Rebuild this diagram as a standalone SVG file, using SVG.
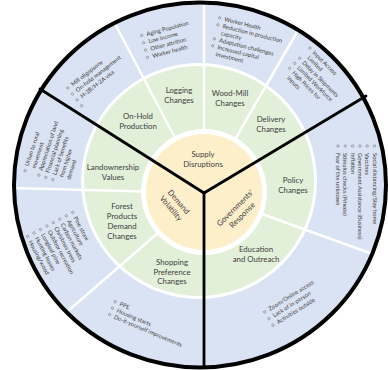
<svg xmlns="http://www.w3.org/2000/svg" width="388" height="370" viewBox="0 0 388 370">
<style>
.lbl{font-family:Lato,"Liberation Sans",sans-serif;font-size:7.8px;fill:#404040;text-anchor:middle}
.bt{font-family:Lato,"Liberation Sans",sans-serif;font-size:5.8px;fill:#404040}
.bul{fill:none;stroke:#666;stroke-width:0.5}
.sep{stroke:#fff;stroke-width:2.5;fill:none}
.div{stroke:#000;stroke-width:2.8;fill:none;stroke-linecap:round}
</style>
<rect width="388" height="370" fill="#fff"/>
<g id="rings">
<ellipse cx="200" cy="185" rx="186" ry="182.5" fill="#dae3f3"/>
<circle cx="199" cy="181" r="118" fill="#fff"/>
<circle cx="199" cy="181" r="115" fill="#e2efd9"/>
</g>
<g id="separators">
<line class="sep" x1="204" y1="193" x2="113" y2="20"/>
<line class="sep" x1="204" y1="193" x2="204" y2="0"/>
<line class="sep" x1="204" y1="193" x2="304" y2="20"/>
<line class="sep" x1="204" y1="193" x2="392" y2="261"/>
<line class="sep" x1="204" y1="193" x2="53" y2="324"/>
<line class="sep" x1="204" y1="193" x2="0" y2="187.7"/>
</g>
<g id="core">
<circle cx="204" cy="192" r="63" fill="#fff"/>
<circle cx="204" cy="192" r="58" fill="#feefcb"/>
</g>
<ellipse cx="200" cy="185" rx="186" ry="182.5" fill="none" stroke="#000" stroke-width="4"/>
<g id="connectors">
<line class="div" x1="204" y1="193" x2="40" y2="89"/>
<line class="div" x1="204" y1="193" x2="366" y2="96"/>
<line class="div" x1="204" y1="193" x2="204" y2="367"/>
</g>
<g id="supply-disruptions"><text class="lbl" x="203" y="157">Supply</text><text class="lbl" x="203" y="167">Disruptions</text></g>
<g id="demand-volatility" transform="translate(175 205) rotate(50)"><text class="lbl" x="0" y="-2.2">Demand</text><text class="lbl" x="0" y="7.8">Volatility</text></g>
<g id="governments-response" transform="translate(238.5 211.5) rotate(-45)"><text class="lbl" x="0" y="-2.2">Governments'</text><text class="lbl" x="0" y="7.8">Response</text></g>
<g id="on-hold-production"><text class="lbl" x="138" y="119">On-Hold</text><text class="lbl" x="138" y="129">Production</text></g>
<g id="logging-changes"><text class="lbl" x="179" y="93">Logging</text><text class="lbl" x="179" y="103">Changes</text></g>
<g id="wood-mill-changes"><text class="lbl" x="230" y="96">Wood-Mill</text><text class="lbl" x="230" y="106">Changes</text></g>
<g id="delivery-changes"><text class="lbl" x="271" y="122">Delivery</text><text class="lbl" x="271" y="132">Changes</text></g>
<g id="policy-changes"><text class="lbl" x="293" y="183">Policy</text><text class="lbl" x="293" y="193">Changes</text></g>
<g id="education-outreach"><text class="lbl" x="256" y="252">Education</text><text class="lbl" x="256" y="262">and Outreach</text></g>
<g id="shopping-preference-changes"><text class="lbl" x="172" y="265">Shopping</text><text class="lbl" x="172" y="274.5">Preference</text><text class="lbl" x="172" y="284">Changes</text></g>
<g id="forest-products-demand-changes"><text class="lbl" x="122" y="209">Forest</text><text class="lbl" x="122" y="219">Products</text><text class="lbl" x="122" y="229">Demand</text><text class="lbl" x="122" y="239">Changes</text></g>
<g id="landownership-values"><text class="lbl" x="113" y="170">Landownership</text><text class="lbl" x="113" y="180">Values</text></g>
<g id="on-hold-list" transform="translate(73 86.5) rotate(-38)">
<circle class="bul" cx="-5" cy="-2" r="1.2"/><text class="bt" x="0" y="0">Mill oligopsony</text>
<circle class="bul" cx="-5" cy="5.5" r="1.2"/><text class="bt" x="0" y="7.5">On-hold management</text>
<circle class="bul" cx="-5" cy="13" r="1.2"/><text class="bt" x="0" y="15">H-2B/H-2A visa</text>
<circle class="bul" cx="-5" cy="20.5" r="1.2"/>
</g>
<g id="logging-list" transform="translate(147 36) rotate(-15)">
<circle class="bul" cx="-5" cy="-2" r="1.2"/><text class="bt" x="0" y="0">Aging Population</text>
<circle class="bul" cx="-5" cy="5.6" r="1.2"/><text class="bt" x="0" y="7.6">Low income</text>
<circle class="bul" cx="-5" cy="13.2" r="1.2"/><text class="bt" x="0" y="15.2">Other attrition</text>
<circle class="bul" cx="-5" cy="20.8" r="1.2"/><text class="bt" x="0" y="22.8">Worker health</text>
</g>
<g id="wood-mill-list" transform="translate(224 21) rotate(14)">
<circle class="bul" cx="-5" cy="-2" r="1.2"/><text class="bt" x="0" y="0">Worker Health</text>
<circle class="bul" cx="-5" cy="5.2" r="1.2"/><text class="bt" x="0" y="7.2">Reduction in production</text>
<text class="bt" x="0" y="14.4">capacity</text>
<circle class="bul" cx="-5" cy="19.6" r="1.2"/><text class="bt" x="0" y="21.6">Adaptation challenges</text>
<circle class="bul" cx="-5" cy="26.8" r="1.2"/><text class="bt" x="0" y="28.8">Increased capital</text>
<text class="bt" x="0" y="36">investment</text>
</g>
<g id="delivery-list" transform="translate(312 53) rotate(45)">
<circle class="bul" cx="-5" cy="-2" r="1.2"/><text class="bt" x="0" y="0">Input Access</text>
<text class="bt" x="0" y="7.2">Limited</text>
<circle class="bul" cx="-5" cy="12.4" r="1.2"/><text class="bt" x="0" y="14.4">Delay in Shipments</text>
<circle class="bul" cx="-5" cy="19.6" r="1.2"/><text class="bt" x="0" y="21.6">Limited Workforce</text>
<circle class="bul" cx="-5" cy="26.8" r="1.2"/><text class="bt" x="0" y="28.8">High Prices for</text>
<text class="bt" x="0" y="36">Inputs</text>
</g>
<g id="policy-list" transform="translate(372.5 153) rotate(90)">
<circle class="bul" cx="-7" cy="-2" r="1.2"/><text class="bt" x="0" y="0">Social distancing/Stay home</text>
<circle class="bul" cx="-7" cy="5.3" r="1.2"/><text class="bt" x="0" y="7.3">Vaccines</text>
<circle class="bul" cx="-7" cy="12.6" r="1.2"/><text class="bt" x="0" y="14.6">Government Assistance (Business)</text>
<circle class="bul" cx="-7" cy="19.9" r="1.2"/><text class="bt" x="0" y="21.9">Inflation</text>
<circle class="bul" cx="-7" cy="27.2" r="1.2"/><text class="bt" x="0" y="29.2">Stimulus checks (Private)</text>
<circle class="bul" cx="-7" cy="34.5" r="1.2"/><text class="bt" x="0" y="36.5">Fear of the unknown</text>
</g>
<g id="education-list" transform="translate(270 311) rotate(-32)">
<circle class="bul" cx="-5" cy="-2" r="1.2"/><text class="bt" x="0" y="0">Zoom/Online access</text>
<circle class="bul" cx="-5" cy="5.8" r="1.2"/><text class="bt" x="0" y="7.8">Lack of in-person</text>
<circle class="bul" cx="-5" cy="13.6" r="1.2"/><text class="bt" x="0" y="15.6">Activities outside</text>
</g>
<g id="shopping-list" transform="translate(119 305.5) rotate(23)">
<circle class="bul" cx="-5" cy="-2" r="1.2"/><text class="bt" x="0" y="0">PPE</text>
<circle class="bul" cx="-5" cy="5" r="1.2"/><text class="bt" x="0" y="7">Housing starts</text>
<circle class="bul" cx="-5" cy="12" r="1.2"/><text class="bt" x="0" y="14">Do-it-yourself improvements</text>
</g>
<g id="forest-list" transform="translate(73.3 217.7) rotate(62)">
<circle class="bul" cx="-5" cy="-2" r="1.2"/><text class="bt" x="0" y="0">Pine straw</text>
<circle class="bul" cx="-5" cy="5.3" r="1.2"/><text class="bt" x="0" y="7.3">Agriculture</text>
<circle class="bul" cx="-5" cy="12.6" r="1.2"/><text class="bt" x="0" y="14.6">Carbon markets</text>
<circle class="bul" cx="-5" cy="19.9" r="1.2"/><text class="bt" x="0" y="21.9">Christmas trees</text>
<circle class="bul" cx="-5" cy="27.2" r="1.2"/><text class="bt" x="0" y="29.2">Outdoor recreation</text>
<circle class="bul" cx="-5" cy="34.5" r="1.2"/><text class="bt" x="0" y="36.5">Longleaf pine</text>
<circle class="bul" cx="-5" cy="41.8" r="1.2"/><text class="bt" x="0" y="43.8">Hunting leases</text>
<circle class="bul" cx="-5" cy="49.1" r="1.2"/><text class="bt" x="0" y="51.1">Housing/wood</text>
</g>
<g id="landownership-list" transform="translate(28.5 166.5) rotate(-72)">
<circle class="bul" cx="-5" cy="-2" r="1.2"/><text class="bt" x="0" y="0">Urban to rural</text>
<text class="bt" x="0" y="7.3">movement</text>
<circle class="bul" cx="-5" cy="12.6" r="1.2"/><text class="bt" x="0" y="14.6">Appreciation of land</text>
<circle class="bul" cx="-5" cy="19.9" r="1.2"/><text class="bt" x="0" y="21.9">Financial planning</text>
<circle class="bul" cx="-5" cy="27.2" r="1.2"/><text class="bt" x="0" y="29.2">Lack of benefits</text>
<text class="bt" x="0" y="36.5">from higher</text>
<text class="bt" x="0" y="43.8">demand</text>
</g>
</svg>
